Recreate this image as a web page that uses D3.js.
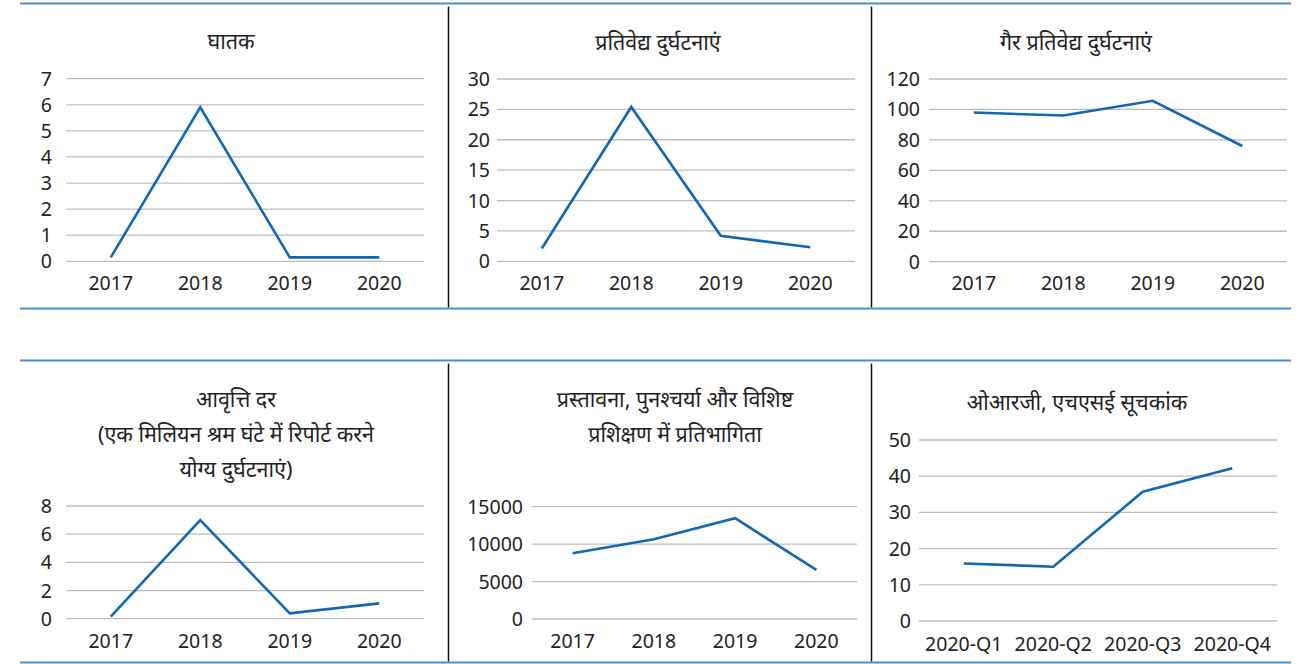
<!DOCTYPE html>
<html>
<head>
<meta charset="utf-8">
<script src="https://cdn.jsdelivr.net/npm/d3@7"></script>
<style>
  html, body { margin: 0; padding: 0; background: #fff; }
  svg { display: block; }
  text { font-family: "Noto Sans", "Noto Sans Devanagari", "Open Sans", sans-serif; fill: #222; }
</style>
</head>
<body>
<svg id="chart" width="1310" height="664"></svg>
<script>
// ---- Data ----
const years = ["2017", "2018", "2019", "2020"];
const quarters = ["2020-Q1", "2020-Q2", "2020-Q3", "2020-Q4"];

const fatalValues = [0.15, 5.9, 0.15, 0.15];
const reportableValues = [2.1, 25.4, 4.2, 2.3];
const nonReportableValues = [98, 96, 105.7, 76];
const frequencyRateValues = [0.15, 7.0, 0.38, 1.09];
const trainingValues = [8780, 10650, 13460, 6550];
const hseIndexValues = [15.9, 15.0, 35.7, 42.2];

const fatalTicks = [0, 1, 2, 3, 4, 5, 6, 7];
const reportableTicks = [0, 5, 10, 15, 20, 25, 30];
const nonReportableTicks = [0, 20, 40, 60, 80, 100, 120];
const frequencyRateTicks = [0, 2, 4, 6, 8];
const trainingTicks = [0, 5000, 10000, 15000];
const hseIndexTicks = [0, 10, 20, 30, 40, 50];

const fatalTitle = ["घातक"];
const reportableTitle = ["प्रतिवेद्य दुर्घटनाएं"];
const nonReportableTitle = ["गैर प्रतिवेद्य दुर्घटनाएं"];
const frequencyRateTitle = ["आवृत्ति दर", "(एक मिलियन श्रम घंटे में रिपोर्ट करने", "योग्य दुर्घटनाएं)"];
const trainingTitle = ["प्रस्तावना, पुनश्चर्या और विशिष्ट", "प्रशिक्षण में प्रतिभागिता"];
const hseIndexTitle = ["ओआरजी, एचएसई सूचकांक"];

// ---- Layout ----
const svg = d3.select("#chart");
const LINE_COLOR = "#1268b0";
const GRID_COLOR = "#bcbcbc";
const BORDER_BLUE = "#4a90c9";

// frame lines
const frame = svg.append("g");
[[3.5, 308.5], [360.5, 662.5]].forEach(([yt, yb]) => {
  frame.append("line").attr("x1", 20).attr("x2", 1291).attr("y1", yt).attr("y2", yt)
    .attr("stroke", BORDER_BLUE).attr("stroke-width", 2);
  frame.append("line").attr("x1", 20).attr("x2", 1291).attr("y1", yb).attr("y2", yb)
    .attr("stroke", BORDER_BLUE).attr("stroke-width", 2);
  [448.5, 871.5].forEach(x => {
    frame.append("line").attr("x1", x).attr("x2", x).attr("y1", yt + 3).attr("y2", yb - 1)
      .attr("stroke", "#111").attr("stroke-width", 1.5);
  });
});

const panels = [
  { cats: years, vals: fatalValues, ticks: fatalTicks, title: fatalTitle,
    x0: 66, x1: 424, yTop: 78.7, yBot: 261.3, tickX: 52, xLabY: 290, titleX: 231, titleY: 49 },
  { cats: years, vals: reportableValues, ticks: reportableTicks, title: reportableTitle,
    x0: 497, x1: 855, yTop: 79, yBot: 261.3, tickX: 490, xLabY: 290, titleX: 658, titleY: 50 },
  { cats: years, vals: nonReportableValues, ticks: nonReportableTicks, title: nonReportableTitle,
    x0: 929, x1: 1287, yTop: 79, yBot: 261.7, tickX: 920, xLabY: 290, titleX: 1076, titleY: 50 },
  { cats: years, vals: frequencyRateValues, ticks: frequencyRateTicks, title: frequencyRateTitle,
    x0: 66, x1: 424, yTop: 506, yBot: 618.7, tickX: 52, xLabY: 647.5, titleX: 236, titleY: 407, lineH: 35 },
  { cats: years, vals: trainingValues, ticks: trainingTicks, title: trainingTitle,
    x0: 532, x1: 857, yTop: 506.7, yBot: 619, tickX: 523, xLabY: 647.5, titleX: 675, titleY: 407, lineH: 35 },
  { cats: quarters, vals: hseIndexValues, ticks: hseIndexTicks, title: hseIndexTitle,
    x0: 919, x1: 1277, yTop: 440, yBot: 621, tickX: 911, xLabY: 651, titleX: 1077, titleY: 410 }
];

panels.forEach(p => {
  const g = svg.append("g");
  const x = d3.scaleBand().domain(p.cats).range([p.x0, p.x1]);
  const y = d3.scaleLinear().domain([0, d3.max(p.ticks)]).range([p.yBot, p.yTop]);

  // gridlines
  g.append("g").selectAll("line").data(p.ticks).join("line")
    .attr("x1", p.x0).attr("x2", p.x1)
    .attr("y1", d => y(d)).attr("y2", d => y(d))
    .attr("stroke", GRID_COLOR).attr("stroke-width", 1.3);

  // y tick labels
  g.append("g").selectAll("text").data(p.ticks).join("text")
    .attr("x", p.tickX).attr("y", d => y(d)).attr("dy", "0.36em")
    .attr("text-anchor", "end").attr("font-size", 19.5)
    .text(d => d);

  // x labels
  g.append("g").selectAll("text").data(p.cats).join("text")
    .attr("x", d => x(d) + x.bandwidth() / 2).attr("y", p.xLabY)
    .attr("text-anchor", "middle").attr("font-size", 19.5)
    .text(d => d);

  // line
  const line = d3.line()
    .x((d, i) => x(p.cats[i]) + x.bandwidth() / 2)
    .y(d => y(d));
  g.append("path").datum(p.vals).attr("d", line)
    .attr("fill", "none").attr("stroke", LINE_COLOR).attr("stroke-width", 2.6)
    .attr("stroke-linejoin", "miter");

  // title
  g.append("g").selectAll("text").data(p.title).join("text")
    .attr("x", p.titleX).attr("y", (d, i) => p.titleY + i * (p.lineH || 0))
    .attr("text-anchor", "middle").attr("font-size", 21.5)
    .text(d => d);
});
</script>
</body>
</html>
